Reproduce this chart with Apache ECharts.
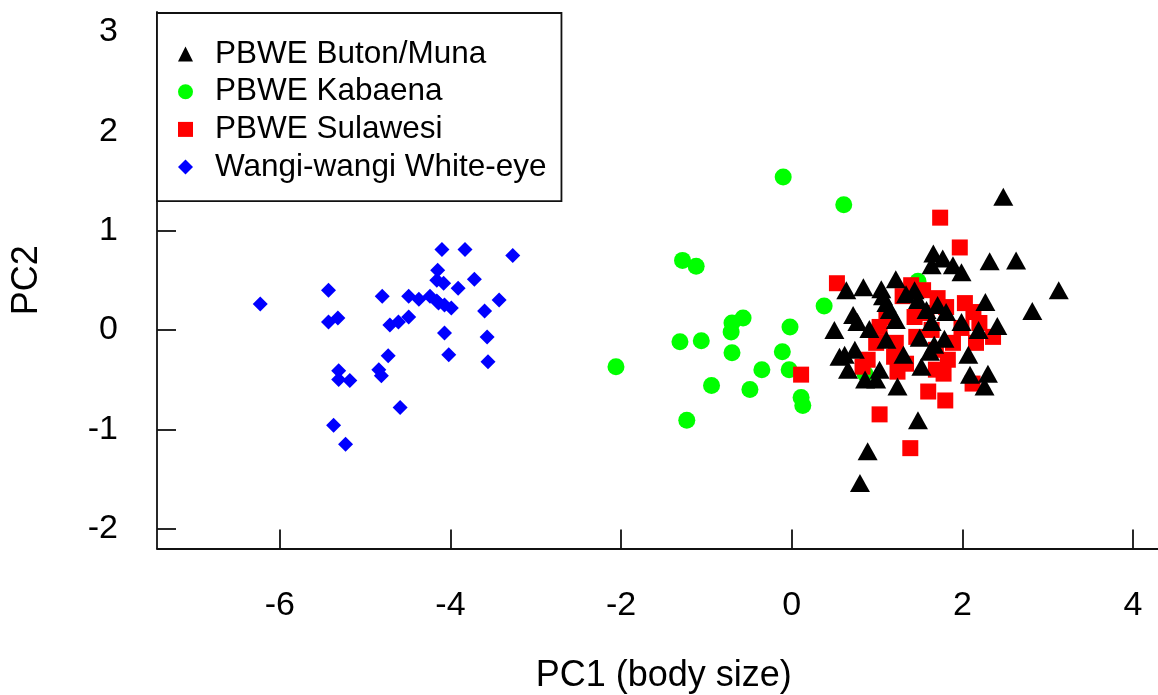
<!DOCTYPE html>
<html>
<head>
<meta charset="utf-8">
<script src="https://cdn.jsdelivr.net/npm/echarts@6/dist/echarts.min.js"></script>
<style>
  html, body { margin: 0; padding: 0; background: #fff; }
  #chart { width: 1158px; height: 695px; }
</style>
</head>
<body>
<div id="chart"></div>
<script>
// PC scores, [PC1, PC2]
var butonMuna = [
  [2.48, 1.34], [2.32, 0.69], [2.63, 0.70], [3.13, 0.40], [2.82, 0.19],
  [1.66, 0.77], [1.77, 0.72], [1.64, 0.65], [1.89, 0.65], [1.99, 0.58],
  [0.64, 0.40], [0.84, 0.43], [1.05, 0.41], [1.22, 0.51], [1.34, 0.36],
  [1.44, 0.40], [1.48, 0.30], [1.11, 0.27], [1.15, 0.20], [0.72, 0.15],
  [0.77, 0.08], [0.50, 0.00], [0.91, 0.01], [1.22, 0.10], [1.71, 0.25],
  [1.81, 0.18], [1.64, 0.08], [1.99, 0.08], [2.27, 0.28], [2.19, 0.00],
  [2.41, 0.04], [1.11, -0.10], [1.50, -0.08], [1.79, -0.09], [0.62, -0.25],
  [0.74, -0.20], [0.66, -0.40], [0.86, -0.50], [1.03, -0.40], [1.31, -0.25],
  [1.52, -0.37], [1.62, -0.22], [1.67, -0.15], [2.07, -0.25], [2.09, -0.45],
  [2.30, -0.44], [2.26, -0.57], [1.24, -0.57], [1.48, -0.91], [0.89, -1.22],
  [0.80, -1.54], [1.07, 0.34], [1.58, 0.20], [0.56, -0.27], [0.99, -0.50]
];
var kabaena = [
  [-0.10, 1.54], [0.61, 1.26], [-1.28, 0.70], [-1.12, 0.64], [0.38, 0.24],
  [-0.57, 0.12], [-0.70, 0.07], [-0.71, -0.02], [-0.02, 0.03], [-1.31, -0.12],
  [-1.06, -0.11], [-0.70, -0.23], [-0.11, -0.22], [-2.06, -0.37], [-0.35, -0.40],
  [-0.03, -0.40], [-0.94, -0.56], [-0.49, -0.60], [0.11, -0.68], [0.13, -0.76],
  [-1.23, -0.91], [1.48, 0.49], [0.86, -0.44]
];
var sulawesi = [
  [1.74, 1.13], [1.97, 0.83], [0.53, 0.47], [0.11, -0.45], [1.03, -0.85],
  [1.39, -1.19], [1.60, -0.62], [1.80, -0.71], [1.78, -0.44], [2.03, 0.27],
  [2.13, 0.18], [2.36, -0.07], [2.16, -0.13], [2.12, -0.54], [1.40, 0.45],
  [1.54, 0.40], [1.71, 0.32], [1.81, 0.23], [1.30, 0.34], [1.44, 0.13],
  [1.03, 0.03], [0.99, -0.13], [0.89, -0.30], [1.22, -0.13], [1.20, -0.27],
  [1.24, -0.42], [1.46, -0.07], [1.64, 0.00], [1.89, -0.13], [1.83, -0.30],
  [1.69, -0.20], [1.11, 0.13], [1.58, 0.17], [1.99, 0.02], [2.20, 0.07],
  [0.83, -0.37], [1.34, -0.34], [1.69, -0.40]
];
var wangiWangi = [
  [-6.23, 0.26], [-5.43, 0.40], [-5.43, 0.08], [-5.32, 0.12], [-5.31, -0.41],
  [-5.31, -0.50], [-5.18, -0.51], [-5.37, -0.96], [-5.23, -1.15], [-4.80, 0.34],
  [-4.73, -0.26], [-4.84, -0.40], [-4.81, -0.46], [-4.59, -0.78], [-4.71, 0.05],
  [-4.61, 0.08], [-4.49, 0.13], [-4.49, 0.34], [-4.37, 0.31], [-4.24, 0.34],
  [-4.16, 0.29], [-4.10, 0.81], [-3.83, 0.81], [-3.27, 0.75], [-4.15, 0.60],
  [-4.16, 0.50], [-4.08, 0.47], [-3.91, 0.42], [-3.72, 0.51], [-4.07, 0.25],
  [-3.99, 0.22], [-4.07, -0.03], [-4.02, -0.25], [-3.60, 0.19], [-3.43, 0.30],
  [-3.57, -0.07], [-3.56, -0.32], [-4.14, 0.27]
];
var xTicks = [-6, -4, -2, 0, 2, 4];
var yTicks = [-2, -1, 0, 1, 2, 3];
var legendOrder = ['PBWE Buton/Muna', 'PBWE Kabaena', 'PBWE Sulawesi', 'Wangi-wangi White-eye'];

var font = '"Liberation Sans", Arial, sans-serif';
var chart = echarts.init(document.getElementById('chart'), null, { renderer: 'canvas' });

var axisCommon = {
  type: 'value',
  nameLocation: 'middle',
  nameMoveOverlap: false,
  nameTextStyle: { color: '#000', fontFamily: font, fontSize: 36 },
  axisLine: { show: true, onZero: false, lineStyle: { color: '#111', width: 1.8 } },
  axisTick: { show: true, inside: true, length: 19, lineStyle: { color: '#111', width: 1.8 } },
  axisLabel: { color: '#000', fontFamily: font, fontSize: 34, lineHeight: 34 },
  splitLine: { show: false }
};

var option = {
  animation: false,
  backgroundColor: '#fff',
  grid: { left: 157, top: 12, right: -12.5, bottom: 146.5, containLabel: false, outerBoundsMode: 'none' },
  xAxis: echarts.util.merge({
    min: -7.44, max: 4.44,
    name: 'PC1 (body size)',
    nameGap: 110,
    axisTick: { customValues: xTicks },
    axisLabel: { customValues: xTicks, margin: 40 }
  }, axisCommon),
  yAxis: echarts.util.merge({
    min: -2.2, max: 3.2,
    name: 'PC2',
    nameGap: 112,
    axisTick: { customValues: yTicks },
    axisLabel: { customValues: yTicks, margin: 39 }
  }, axisCommon),
  legend: {
    data: [
      { name: legendOrder[0], icon: 'triangle' },
      { name: legendOrder[1], icon: 'circle' },
      { name: legendOrder[2], icon: 'rect' },
      { name: legendOrder[3], icon: 'diamond' }
    ],
    orient: 'vertical',
    left: 157, top: 13,
    padding: [25, 15, 18, 21],
    itemWidth: 15, itemHeight: 15,
    itemGap: 5.7,
    borderColor: '#111', borderWidth: 1.8,
    backgroundColor: '#fff',
    textStyle: { color: '#000', fontFamily: font, fontSize: 31.5, lineHeight: 31, padding: [0, 0, 0, 17] }
  },
  series: [
    { name: 'Wangi-wangi White-eye', type: 'scatter', data: wangiWangi, symbol: 'diamond', symbolSize: 15, itemStyle: { color: '#0000ff', opacity: 1 } },
    { name: 'PBWE Kabaena', type: 'scatter', data: kabaena, symbol: 'circle', symbolSize: 17, itemStyle: { color: '#00ff00', opacity: 1 } },
    { name: 'PBWE Sulawesi', type: 'scatter', data: sulawesi, symbol: 'rect', symbolSize: 16, itemStyle: { color: '#ff0000', opacity: 1 } },
    { name: 'PBWE Buton/Muna', type: 'scatter', data: butonMuna, symbol: 'triangle', symbolSize: [20, 18], itemStyle: { color: '#000', opacity: 1 } }
  ]
};

chart.setOption(option);
window.addEventListener('resize', function() { chart.resize(); });
</script>
</body>
</html>
